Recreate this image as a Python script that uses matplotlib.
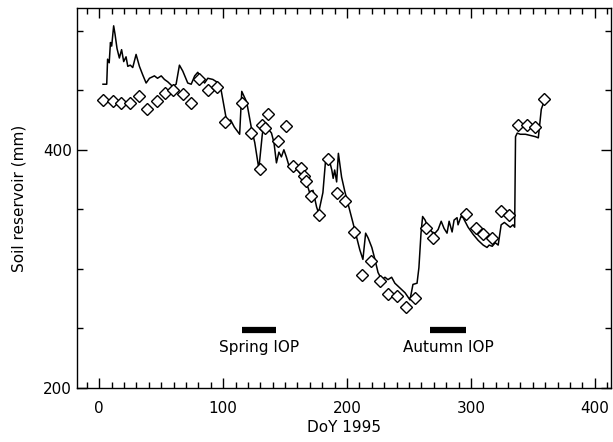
import matplotlib
matplotlib.use('Agg')
import matplotlib.pyplot as plt
from matplotlib.ticker import MultipleLocator

# Modelled soil reservoir (daily line)
model_doy = [3, 6, 6.7, 8, 9, 10, 11.6, 12.7, 14.3, 16.2, 18, 19.7, 21.6, 23, 25, 27,
             29.7, 32.4, 35, 37.8, 40.5, 44.5, 47, 50, 52.6, 55.3, 59.3, 62, 64.7, 67.4,
             71.4, 74.2, 77, 79.5, 82.3, 85, 87.6, 91.7, 94.7, 97.5, 103, 106, 109, 113.3,
             115, 119, 123, 125.5, 128.8, 131.5, 132.7, 134, 136, 139, 141, 143, 145, 147,
             149, 151, 153, 156, 160, 163, 166, 168.6, 170.7, 172.5, 175.4, 177, 180.5,
             182.5, 184.2, 186, 187.7, 188.8, 190, 191.6, 193, 195.6, 198.2, 202, 204.7,
             207.6, 210.3, 212.8, 215, 217, 220, 222.5, 225, 228, 230.6, 233, 236, 238.6,
             242.7, 246.8, 250.8, 253.2, 256.5, 258, 259.7, 261, 263, 265.4, 268.6, 271,
             273.5, 276, 278.3, 280.7, 282.4, 284.8, 286.4, 288.8, 289.6, 292, 293.7,
             297.7, 301.8, 305.8, 309.9, 313, 314.7, 317.2, 319.6, 322, 324.4, 327, 329.3,
             331.7, 334, 335.3, 336, 337.4, 339.8, 344, 348, 352, 354.4, 356.8, 359.2]
model_val = [455, 455, 476, 473, 490, 487, 504, 497, 485, 477, 484, 474, 478, 470, 471, 469,
             480, 470, 463, 456, 460, 462, 460, 462, 459, 457, 453, 455, 471, 466,
             456, 455, 462, 465, 460, 456, 460, 459, 457, 455, 423, 425, 419, 413,
             449, 440, 417, 406, 384, 412, 421, 415, 418, 414, 406, 389, 398, 394,
             400, 394, 387, 385, 383, 379, 373, 368, 361, 366, 352, 347, 364,
             389, 394, 390, 383, 376, 383, 373, 397, 377, 365, 350, 339,
             327, 316, 308, 330, 326, 318, 308, 297, 291, 293, 291, 293, 288,
             284, 280, 274, 287, 288, 301, 330, 344, 341, 335, 331, 330,
             333, 340, 334, 330, 340, 331, 341, 343, 337, 344, 343,
             335, 329, 324, 320, 318, 320, 319, 322, 320, 337, 339, 337,
             335, 337, 335, 411, 414, 413, 413, 412, 411, 410, 434, 441]

# Observed values (diamonds)
obs_doy = [3.2, 11.3, 17.8, 25.1, 32.4, 38.8, 46.9, 53.4, 59.9, 67.2, 74.4, 80.1, 87.4,
           94.7, 101.1, 114.9, 122.2, 129.4, 131.1, 133.5, 135.9, 144.0, 150.5, 156.1,
           162.6, 165.0, 166.7, 170.7, 177.2, 184.5, 191.7, 198.2, 205.5, 212, 219.3,
           226.5, 233, 240.3, 247.6, 254.9, 263.8, 269.4, 296, 304.2, 309.9, 317.2,
           324.4, 331, 338.2, 345.5, 352, 359.2]
obs_val = [442, 441, 439, 439, 445, 434, 441, 448, 450, 447, 439, 459, 450,
           453, 423, 439, 414, 384, 421, 418, 430, 407, 420, 386,
           385, 378, 374, 361, 345, 392, 364, 357, 331, 295, 307,
           290, 279, 277, 268, 276, 334, 326, 346, 334, 329, 326,
           349, 345, 421, 421, 419, 443]

# Intensive observation periods
iop_names = ['Spring IOP', 'Autumn IOP']
iop_start = [115, 267]
iop_end = [143, 296]

plt.rcParams['font.family'] = 'DejaVu Sans'
fig = plt.figure(figsize=(6.13, 4.42), dpi=100)
ax = fig.add_axes([0.1256, 0.122, 0.871, 0.86])

ax.plot(model_doy, model_val, color='black', lw=1.1)
ax.plot(obs_doy, obs_val, linestyle='none', marker='D', ms=6, mfc='white',
        mec='black', mew=1.0)

for name, s, e in zip(iop_names, iop_start, iop_end):
    ax.plot([s, e], [249, 249], color='black', lw=4.5, solid_capstyle='butt')
    ax.text((s + e) / 2, 234, name, ha='center', va='center', fontsize=11)

ax.set_xlim(-18, 413)
ax.set_ylim(200, 519)
ax.xaxis.set_major_locator(MultipleLocator(100))
ax.xaxis.set_minor_locator(MultipleLocator(10))
ax.yaxis.set_major_locator(MultipleLocator(200))
ax.yaxis.set_minor_locator(MultipleLocator(50))
ax.tick_params(which='both', direction='in', top=True, right=True, labelsize=11, width=1)
ax.tick_params(which='major', length=7)
ax.tick_params(which='minor', length=4)
ax.tick_params(axis='x', which='major', pad=9)
for sp in ax.spines.values():
    sp.set_linewidth(1.0)

ax.set_xlabel('DoY 1995', fontsize=11, labelpad=3)
ax.set_ylabel('Soil reservoir (mm)', fontsize=11, labelpad=12)

fig.savefig('out.png', dpi=100)
